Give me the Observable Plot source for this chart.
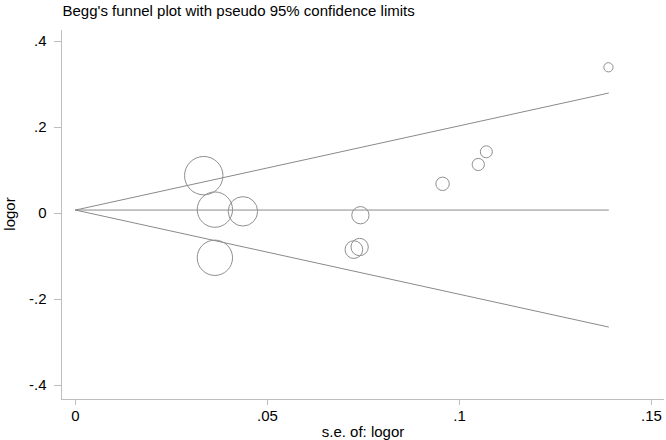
<!DOCTYPE html>
<html>
<head>
<meta charset="utf-8">
<script src="https://cdn.jsdelivr.net/npm/d3@7"></script>
<script src="https://cdn.jsdelivr.net/npm/@observablehq/plot@0.6"></script>
<style>
  html, body { margin: 0; padding: 0; background: #fff; }
  #chart { width: 666px; height: 440px; }
</style>
</head>
<body>
<div id="chart"></div>
<script>
// ---- data ----
const titleText = "Begg's funnel plot with pseudo 95% confidence limits";
const xTitle = "s.e. of: logor";
const yTitle = "logor";

const studySE    = [0.0334, 0.0363, 0.0436, 0.0363, 0.0742, 0.0725, 0.0740, 0.0956, 0.1049, 0.1070, 0.1388];
const studyLogOR = [0.088, 0.009, 0.005, -0.103, -0.004, -0.084, -0.078, 0.069, 0.114, 0.1435, 0.340];

const limitSE    = [0, 0.1388];
const pooledLine = [0.008, 0.008];
const upperLimit = [0.008, 0.280];
const lowerLimit = [0.008, -0.264];

const xTicks = [0, 0.05, 0.1, 0.15];
const xTickLabels = ["0", ".05", ".1", ".15"];
const yTicks = [0.4, 0.2, 0, -0.2, -0.4];
const yTickLabels = [".4", ".2", "0", "-.2", "-.4"];

// ---- build tables ----
const studies = studySE.map((s, i) => ({se: s, logor: studyLogOR[i]}));
const lineTable = (ys) => limitSE.map((s, i) => ({se: s, y: ys[i]}));

const axisGray = "#bdbdbd";
const lineGray = "#8a8a8a";
const circleGray = "#8f8f8f";

const chart = Plot.plot({
  width: 666,
  height: 440,
  marginLeft: 61,
  marginRight: 2,
  marginTop: 30,
  marginBottom: 41,
  style: {fontFamily: "'Liberation Sans', Arial, sans-serif", fontSize: "15px", background: "#fff", color: "#000"},
  x: {domain: [-0.00365, 0.1534], label: null},
  y: {domain: [-0.4326, 0.4256], label: null},
  r: {type: "sqrt", domain: [0, 1 / (0.0334 * 0.0334)], range: [0, 19.2]},
  marks: [
    // axis lines
    Plot.ruleX([-0.00365], {stroke: axisGray, strokeWidth: 1}),
    Plot.ruleY([-0.4326], {stroke: axisGray, strokeWidth: 1}),
    Plot.axisX({
      ticks: xTicks,
      tickFormat: d => xTickLabels[xTicks.indexOf(d)],
      tickSize: 6,
      tickPadding: 5,
      stroke: axisGray,
      fill: "#000",
      label: null
    }),
    Plot.axisY({
      ticks: yTicks,
      tickFormat: d => yTickLabels[yTicks.indexOf(d)],
      tickSize: 7,
      tickPadding: 8,
      stroke: axisGray,
      fill: "#000",
      label: null
    }),
    // funnel lines
    Plot.line(lineTable(upperLimit), {x: "se", y: "y", stroke: lineGray, strokeWidth: 1}),
    Plot.line(lineTable(pooledLine), {x: "se", y: "y", stroke: lineGray, strokeWidth: 1}),
    Plot.line(lineTable(lowerLimit), {x: "se", y: "y", stroke: lineGray, strokeWidth: 1}),
    // studies
    Plot.dot(studies, {
      x: "se",
      y: "logor",
      r: d => 1 / (d.se * d.se),
      stroke: circleGray,
      strokeWidth: 1,
      fill: "none"
    }),
    // titles
    Plot.text([titleText], {
      text: d => d, frameAnchor: "top-left", textAnchor: "start", lineAnchor: "bottom",
      dx: 1, dy: -15, fontSize: 15, fill: "#000"
    }),
    Plot.text([xTitle], {
      text: d => d, frameAnchor: "bottom", textAnchor: "middle", lineAnchor: "bottom",
      dy: 37, fontSize: 15, fill: "#000"
    }),
    Plot.text([yTitle], {
      text: d => d, frameAnchor: "left", textAnchor: "middle", lineAnchor: "bottom",
      rotate: -90, dx: -47, dy: -1, fontSize: 15, fill: "#000"
    })
  ]
});

document.getElementById("chart").appendChild(chart);
</script>
</body>
</html>
